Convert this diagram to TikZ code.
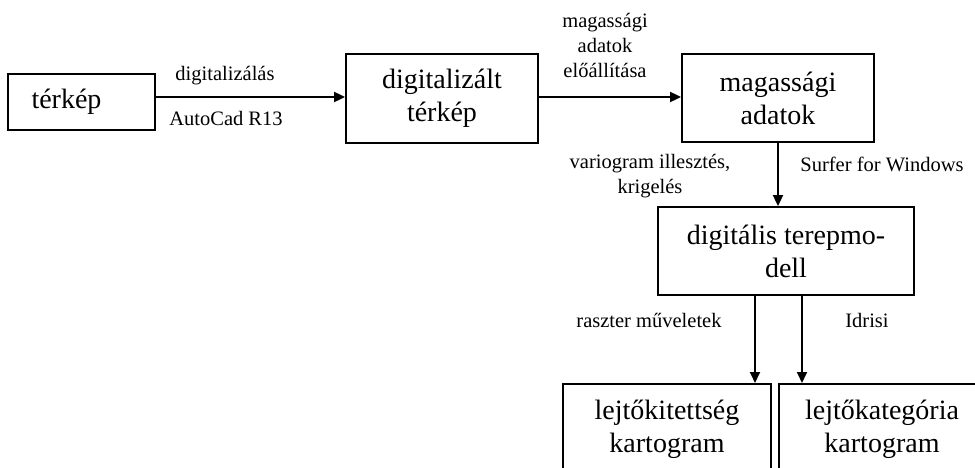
\documentclass[tikz,border=0pt]{standalone}
\usepackage{fontspec}
\setmainfont{Liberation Serif}
\usetikzlibrary{arrows.meta}
\begin{document}
\begin{tikzpicture}[x=1pt,y=-1pt,
  box/.style={draw,line width=1.8pt,rectangle,inner sep=0pt,align=center,
    font=\fontsize{28}{33}\selectfont},
  lbl/.style={inner sep=0pt,align=center,font=\fontsize{20.5}{25}\selectfont},
  arr/.style={line width=1.8pt,-{Triangle[length=11pt,width=10pt]}}]
\useasboundingbox (0,0) rectangle (975,467);
\clip (0,0) rectangle (975,467);
\node[box,minimum width=147pt,minimum height=56pt] (terkep) at (81.5,102) {térkép\hspace*{30pt}};
\node[box,minimum width=192pt,minimum height=89pt] (dig) at (442,98.5) {digitalizált\\térkép};
\node[box,minimum width=192pt,minimum height=88pt] (mag) at (778,98) {magassági\\adatok};
\node[box,minimum width=256pt,minimum height=88pt] (dtm) at (786,251) {digitális terepmo-\\dell};
\node[box,minimum width=208pt,minimum height=110pt,anchor=north west] (kit) at (562,383) {};
\node[box,minimum width=205pt,minimum height=110pt,anchor=north west] (kat) at (778,383) {};
\node[inner sep=0pt,align=center,font=\fontsize{28}{33}\selectfont] (kittxt) at (667,429) {lejtőkitettség\\kartogram};
\node[inner sep=0pt,align=center,font=\fontsize{28}{33}\selectfont] (kattxt) at (882,429) {lejtőkategória\\kartogram};
\coordinate (a1) at (155,97);
\coordinate (a2) at (538,97);
\draw[arr] (a1) -- (dig.west |- a1);
\draw[arr] (a2) -- (mag.west |- a2);
\draw[arr] (mag.south) -- (dtm.north -| mag.south);
\coordinate (d1) at (755,295);
\coordinate (d2) at (802,295);
\draw[arr] (d1) -- (kit.north -| d1);
\draw[arr] (d2) -- (kat.north -| d2);
\node[lbl] (l1) at (225,76) {digitalizálás};
\node[lbl] (l2) at (226,118) {AutoCad R13};
\node[lbl] (l3) at (605,45) {magassági\\adatok\\előállítása};
\node[lbl] (l4) at (650,176) {variogram illesztés,\\krigelés};
\node[lbl] (l5) at (882,164) {Surfer for Windows};
\node[lbl] (l6) at (649,320) {raszter műveletek};
\node[lbl] (l7) at (867,320) {Idrisi};
\end{tikzpicture}
\end{document}
